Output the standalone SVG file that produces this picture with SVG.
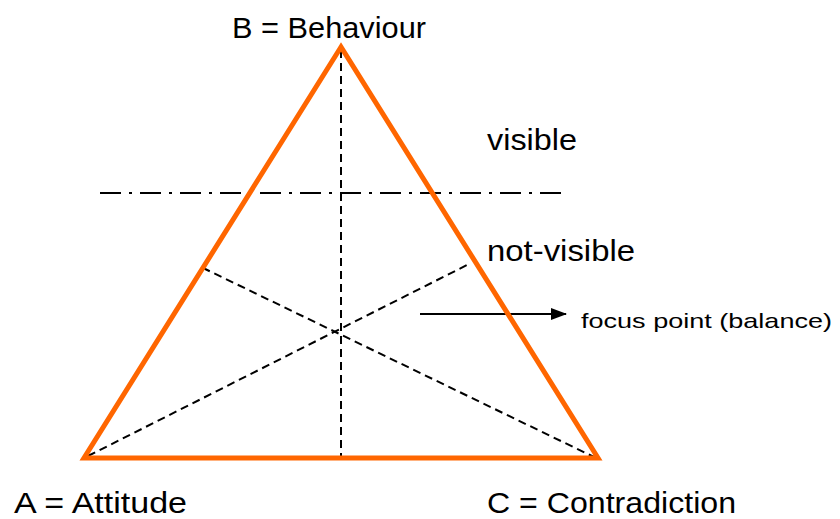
<svg xmlns="http://www.w3.org/2000/svg" width="840" height="519" viewBox="0 0 840 519">
<defs>
<style>
.lbl{font-family:"Liberation Sans",Arial,sans-serif;fill:#000;}
.big{font-size:30px;}
.small{font-size:21px;}
.dash{stroke:#000;stroke-width:2;fill:none;stroke-dasharray:8 5;}
</style>
<marker id="ah" markerWidth="16" markerHeight="14" refX="15" refY="7" orient="auto" markerUnits="userSpaceOnUse" viewBox="0 0 16 14">
<path d="M0,1 L16,7 L0,13 z" fill="#000"/>
</marker>
</defs>
<rect width="840" height="519" fill="#fff"/>
<g id="connectors">
<line class="dash" x1="341" y1="50" x2="341" y2="456"/>
<line class="dash" x1="88" y1="456" x2="471" y2="263"/>
<line class="dash" x1="596" y1="458" x2="201" y2="267"/>
<line x1="100" y1="193" x2="562" y2="193" stroke="#000" stroke-width="2" stroke-dasharray="21 8 3 8"/>
<line x1="420" y1="314" x2="566" y2="314" stroke="#000" stroke-width="2" marker-end="url(#ah)"/>
</g>
<g id="triangle">
<polygon points="341,47 84,458 598,458" fill="none" stroke="#FF6600" stroke-width="5" stroke-linejoin="miter"/>
</g>
<g id="node-B"><text class="lbl big" x="232" y="38" textLength="194" lengthAdjust="spacingAndGlyphs">B = Behaviour</text></g>
<g id="node-visible"><text class="lbl big" x="487" y="150" textLength="90" lengthAdjust="spacingAndGlyphs">visible</text></g>
<g id="node-notvisible"><text class="lbl big" x="487" y="261" textLength="148" lengthAdjust="spacingAndGlyphs">not-visible</text></g>
<g id="node-focus"><text class="lbl small" x="581" y="328" textLength="251" lengthAdjust="spacingAndGlyphs">focus point (balance)</text></g>
<g id="node-A"><text class="lbl big" x="14" y="513" textLength="173" lengthAdjust="spacingAndGlyphs">A = Attitude</text></g>
<g id="node-C"><text class="lbl big" x="487" y="513" textLength="249" lengthAdjust="spacingAndGlyphs">C = Contradiction</text></g>
</svg>
